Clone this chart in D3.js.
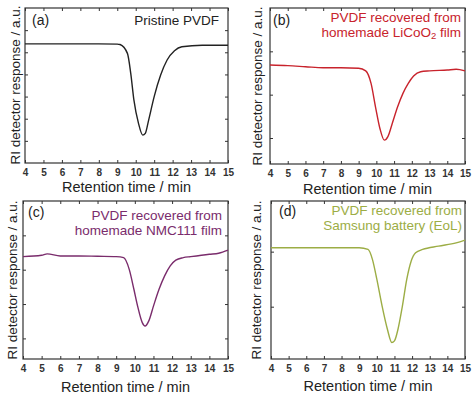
<!DOCTYPE html>
<html>
<head>
<meta charset="utf-8">
<script src="https://cdn.jsdelivr.net/npm/d3@7"></script>
<style>
body { margin: 0; background: #fff; }
svg { display: block; font-family: "Liberation Sans", Arial, sans-serif; }
</style>
</head>
<body>
<div id="chart"></div>
<script>
// x ticks shared by all four panels
var xTicks = [4, 5, 6, 7, 8, 9, 10, 11, 12, 13, 14, 15];

// (a) pristine PVDF
var timeA = [4, 6, 8, 9, 9.15, 9.55, 9.73, 9.9, 10.15, 10.38, 10.52, 10.7, 11.0, 11.35, 11.7, 12.1, 12.5, 13.6, 15];
var respA = [5.38, 5.38, 5.38, 5.37, 5.35, 4.95, 4.05, 2.85, 1.79, 1.26, 1.34, 1.94, 3.0, 3.97, 4.65, 5.07, 5.25, 5.32, 5.32];
var yTicksA = [1, 2, 3, 4, 5, 6];

// (b) recovered from LiCoO2 film
var timeB = [4, 5, 6, 7, 8, 9, 9.4, 9.7, 9.95, 10.2, 10.45, 10.65, 10.9, 11.2, 11.5, 11.8, 12.1, 12.5, 13, 14, 14.5, 15];
var respB = [1.685, 1.67, 1.645, 1.62, 1.62, 1.61, 1.55, 1.26, 0.72, 0.22, -0.05, 0.03, 0.34, 0.72, 1.03, 1.26, 1.43, 1.53, 1.55, 1.57, 1.585, 1.55];
var yTicksB = [0, 1, 2];

// (c) recovered from NMC111 film
var timeC = [4, 5, 5.3, 6, 7, 8, 9, 9.4, 9.7, 9.95, 10.15, 10.4, 10.55, 10.75, 11.0, 11.3, 11.6, 11.9, 12.2, 12.6, 13, 14, 14.5, 15];
var respC = [2.38, 2.42, 2.46, 2.40, 2.40, 2.39, 2.38, 2.35, 2.01, 1.43, 0.94, 0.46, 0.36, 0.51, 0.94, 1.43, 1.82, 2.11, 2.28, 2.35, 2.38, 2.45, 2.48, 2.57];
var yTicksC = [0, 1, 2, 3];

// (d) recovered from Samsung battery (EoL)
var timeD = [4, 9, 9.5, 9.75, 10.0, 10.3, 10.6, 10.85, 11.0, 11.2, 11.45, 11.7, 11.95, 12.2, 12.6, 13.5, 14.5, 15];
var respD = [1.07, 1.07, 1.04, 0.86, 0.50, 0.01, -0.41, -0.65, -0.62, -0.41, 0.01, 0.50, 0.83, 0.98, 1.04, 1.10, 1.16, 1.21];
var yTicksD = [0, 1];

var panels = [
	{id: "(a)", t: timeA, v: respA, yt: yTicksA, yd: [0, 7], x0: 25, x1: 228, y0: 8, y1: 163,
		color: "#222", lines: ["Pristine PVDF"], lx: 32, ly: 25, tx: 219, ty: 25, labX: 15, labY: 85, titleY: 192},
	{id: "(b)", t: timeB, v: respB, yt: yTicksB, yd: [-0.6, 3], x0: 270, x1: 465, y0: 8, y1: 164,
		color: "#c8232c", lines: ["PVDF recovered from", "homemade LiCoO|2| film"], lx: 273, ly: 25, tx: 461, ty: 22, labX: 257, labY: 86, titleY: 194},
	{id: "(c)", t: timeC, v: respC, yt: yTicksC, yd: [-0.6, 4], x0: 23, x1: 228, y0: 201, y1: 359,
		color: "#7a2c6c", lines: ["PVDF recovered from", "homemade NMC111 film"], lx: 28, ly: 217, tx: 222, ty: 220, labX: 12, labY: 280, titleY: 392},
	{id: "(d)", t: timeD, v: respD, yt: yTicksD, yd: [-0.95, 1.92], x0: 271, x1: 465, y0: 201, y1: 359,
		color: "#9cad45", lines: ["PVDF recovered from", "Samsung battery (EoL)"], lx: 279, ly: 216, tx: 462, ty: 215, labX: 256, labY: 280, titleY: 391}
];

var svg = d3.select("#chart").append("svg")
	.attr("width", 474)
	.attr("height", 396);

panels.forEach(function(p){
	var x = d3.scaleLinear().domain([4, 15]).range([p.x0, p.x1]);
	var y = d3.scaleLinear().domain(p.yd).range([p.y1, p.y0]);
	var g = svg.append("g");

	// inward ticks on all four sides
	g.append("g").attr("transform", "translate(0," + p.y1 + ")")
		.call(d3.axisBottom(x).tickValues(xTicks).tickSizeInner(-3).tickSizeOuter(0).tickPadding(6));
	g.append("g").attr("transform", "translate(0," + p.y0 + ")")
		.call(d3.axisTop(x).tickValues(xTicks).tickSizeInner(-3).tickSizeOuter(0).tickFormat(""));
	g.append("g").attr("transform", "translate(" + p.x0 + ",0)")
		.call(d3.axisLeft(y).tickValues(p.yt).tickSizeInner(-3).tickSizeOuter(0).tickFormat(""));
	g.append("g").attr("transform", "translate(" + p.x1 + ",0)")
		.call(d3.axisRight(y).tickValues(p.yt).tickSizeInner(-3).tickSizeOuter(0).tickFormat(""));
	g.selectAll(".domain").remove();
	g.selectAll(".tick line").attr("stroke", "#333").attr("stroke-width", 1);
	g.selectAll(".tick text")
		.attr("font-family", "Liberation Sans, Arial, sans-serif")
		.attr("font-size", 10).attr("font-weight", "bold").attr("fill", "#333");

	g.append("rect")
		.attr("x", p.x0).attr("y", p.y0)
		.attr("width", p.x1 - p.x0).attr("height", p.y1 - p.y0)
		.attr("fill", "none").attr("stroke", "#333").attr("stroke-width", 1.2);

	var pts = p.t.map(function(d, i){ return [d, p.v[i]]; });
	g.append("path")
		.datum(pts)
		.attr("fill", "none")
		.attr("stroke", p.color)
		.attr("stroke-width", 1.4)
		.attr("d", d3.line()
			.x(function(d){ return x(d[0]); })
			.y(function(d){ return y(d[1]); })
			.curve(d3.curveMonotoneX));

	g.append("text")
		.attr("x", p.lx).attr("y", p.ly)
		.attr("font-size", 14).attr("fill", "#222")
		.text(p.id);

	p.lines.forEach(function(l, i){
		var t = g.append("text")
			.attr("x", p.tx).attr("y", p.ty + i * 14.5)
			.attr("text-anchor", "end")
			.attr("font-size", 13.5).attr("fill", p.color);
		// parts between | are subscripts
		l.split("|").forEach(function(s, j){
			if(j % 2 == 1){
				t.append("tspan").attr("font-size", 9.5).attr("dy", 2.5).text(s);
			} else {
				t.append("tspan").attr("dy", j > 0 ? -2.5 : 0).text(s);
			}
		});
	});

	g.append("text")
		.attr("x", (p.x0 + p.x1) / 2).attr("y", p.titleY)
		.attr("text-anchor", "middle")
		.attr("font-size", 14.5).attr("fill", "#222")
		.text("Retention time / min");

	g.append("text")
		.attr("transform", "translate(" + p.labX + "," + p.labY + ") rotate(-90)")
		.attr("text-anchor", "middle")
		.attr("dy", "0.35em")
		.attr("font-size", 13.5).attr("fill", "#222")
		.text("RI detector response / a.u.");
});
</script>
</body>
</html>
